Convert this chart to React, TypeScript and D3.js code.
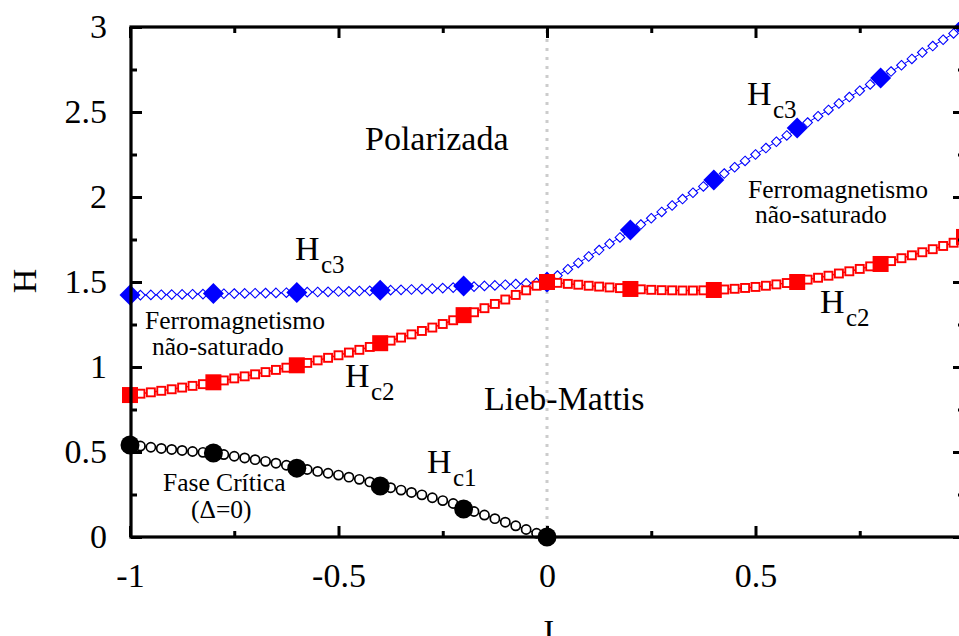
import { useEffect, useRef } from "react";
import * as d3 from "d3";

// fine grid (small open markers)
const jFineLeft = [
  -1, -0.975, -0.95, -0.925, -0.9, -0.875, -0.85, -0.825, -0.8, -0.775, -0.75, -0.725, -0.7, -0.675,
  -0.65, -0.625, -0.6, -0.575, -0.55, -0.525, -0.5, -0.475, -0.45, -0.425, -0.4, -0.375, -0.35, -0.325,
  -0.3, -0.275, -0.25, -0.225, -0.2, -0.175, -0.15, -0.125, -0.1, -0.075, -0.05, -0.025, 0,
];
const jFineRight = [
  0.025, 0.05, 0.075, 0.1, 0.125, 0.15, 0.175, 0.2, 0.225, 0.25, 0.275, 0.3, 0.325, 0.35, 0.375, 0.4,
  0.425, 0.45, 0.475, 0.5, 0.525, 0.55, 0.575, 0.6, 0.625, 0.65, 0.675, 0.7, 0.725, 0.75, 0.775, 0.8,
  0.825, 0.85, 0.875, 0.9, 0.925, 0.95, 0.975, 1,
];

const hc1Fine = [
  0.541, 0.535, 0.528, 0.521, 0.515, 0.509, 0.503, 0.498, 0.493, 0.485, 0.475, 0.465, 0.455, 0.445,
  0.434, 0.422, 0.408, 0.397, 0.386, 0.375, 0.364, 0.352, 0.339, 0.324, 0.303, 0.29, 0.276, 0.262,
  0.248, 0.231, 0.214, 0.197, 0.17, 0.15, 0.129, 0.108, 0.087, 0.066, 0.044, 0.022, 0,
];
const hc2Fine = [
  0.835, 0.843, 0.851, 0.86, 0.869, 0.879, 0.889, 0.899, 0.91, 0.921, 0.933, 0.945, 0.957, 0.97,
  0.983, 0.996, 1.01, 1.024, 1.039, 1.054, 1.069, 1.085, 1.101, 1.118, 1.14, 1.155, 1.173, 1.192,
  1.212, 1.232, 1.253, 1.275, 1.3, 1.322, 1.346, 1.371, 1.397, 1.424, 1.451, 1.478, 1.5,
  1.495, 1.489, 1.484, 1.478, 1.473, 1.468, 1.464, 1.46, 1.457, 1.454, 1.452, 1.451, 1.45, 1.45,
  1.451, 1.453, 1.456, 1.46, 1.465, 1.471, 1.478, 1.486, 1.494, 1.503, 1.514, 1.525, 1.537, 1.55,
  1.563, 1.577, 1.592, 1.607, 1.623, 1.64, 1.657, 1.675, 1.693, 1.712, 1.731, 1.75,
];
const hc3Fine = [
  1.422, 1.423, 1.424, 1.425, 1.426, 1.427, 1.428, 1.429, 1.43, 1.431, 1.432, 1.433, 1.434, 1.435,
  1.436, 1.437, 1.438, 1.44, 1.441, 1.442, 1.444, 1.445, 1.447, 1.448, 1.45, 1.452, 1.454, 1.456,
  1.458, 1.461, 1.464, 1.467, 1.47, 1.473, 1.477, 1.48, 1.484, 1.488, 1.492, 1.496, 1.5,
  1.538, 1.575, 1.612, 1.65, 1.688, 1.725, 1.762, 1.8, 1.838, 1.875, 1.912, 1.95, 1.988, 2.025,
  2.062, 2.1, 2.138, 2.175, 2.212, 2.25, 2.288, 2.325, 2.362, 2.4, 2.438, 2.475, 2.512, 2.55,
  2.588, 2.625, 2.662, 2.7, 2.738, 2.775, 2.812, 2.85, 2.888, 2.925, 2.962, 3.0,
];

// coarse grid (big filled markers)
const jCoarseLeft = [-1, -0.8, -0.6, -0.4, -0.2, 0];
const jCoarseRight = [0.2, 0.4, 0.6, 0.8, 1];
const hc1Big = [0.541, 0.494, 0.405, 0.3, 0.165, 0];
const hc2Big = [0.835, 0.91, 1.01, 1.14, 1.305, 1.5, 1.459, 1.453, 1.5, 1.606, 1.765];
const hc3Big = [1.424, 1.433, 1.438, 1.452, 1.476, 1.5, 1.806, 2.1, 2.406, 2.7, 3.0];

const xMajor = [-1, -0.5, 0, 0.5];
const xMinor = [-0.75, -0.25, 0.25, 0.75];
const yMajor = [0, 0.5, 1, 1.5, 2, 2.5, 3];
const yMinor = [0.25, 0.75, 1.25, 1.75, 2.25, 2.75];

const W = 959;
const H = 636;
const FONT = "'Liberation Serif', 'Times New Roman', serif";

const zip = (xs: number[], ys: number[]) => xs.map((x, i) => [x, ys[i]] as [number, number]);

const PhaseDiagram = () => {
  const svgRef = useRef<SVGSVGElement | null>(null);

  useEffect(() => {
    d3.select(svgRef.current).selectAll("*").remove();
    const svg = d3.select(svgRef.current).attr("width", W).attr("height", H);

    const x = d3.scaleLinear().domain([-1, 1]).range([130, 964]);
    const y = d3.scaleLinear().domain([0, 3]).range([537, 27]);

    const jFull = jFineLeft.concat(jFineRight);
    const jCoarse = jCoarseLeft.concat(jCoarseRight);

    // dotted line at J = 0
    svg
      .append("line")
      .attr("x1", x(0))
      .attr("x2", x(0))
      .attr("y1", y(0))
      .attr("y2", y(3))
      .attr("stroke", "#cccccc")
      .attr("stroke-width", 3)
      .attr("stroke-dasharray", "3,6");

    const line = d3
      .line<[number, number]>()
      .x((d) => x(d[0]))
      .y((d) => y(d[1]));

    // Hc3 - blue diamonds
    const blue = "#0000ff";
    const hc3 = zip(jFull, hc3Fine);
    svg.append("path").attr("d", line(hc3)).attr("fill", "none").attr("stroke", blue).attr("stroke-width", 1);
    const diamond = (r: number) => `M0,${-r}L${r},0L0,${r}L${-r},0Z`;
    svg
      .selectAll(".d-small")
      .data(hc3)
      .enter()
      .append("path")
      .attr("d", diamond(4.8))
      .attr("transform", (d) => `translate(${x(d[0])},${y(d[1])})`)
      .attr("fill", "white")
      .attr("stroke", blue)
      .attr("stroke-width", 1.1);
    svg
      .selectAll(".d-big")
      .data(zip(jCoarse, hc3Big))
      .enter()
      .append("path")
      .attr("d", diamond(10.5))
      .attr("transform", (d) => `translate(${x(d[0])},${y(d[1])})`)
      .attr("fill", blue);

    // Hc2 - red squares
    const red = "#ff0000";
    const hc2 = zip(jFull, hc2Fine);
    svg.append("path").attr("d", line(hc2)).attr("fill", "none").attr("stroke", red).attr("stroke-width", 1.5);
    svg
      .selectAll(".s-small")
      .data(hc2)
      .enter()
      .append("rect")
      .attr("x", (d) => x(d[0]) - 4)
      .attr("y", (d) => y(d[1]) - 4)
      .attr("width", 8)
      .attr("height", 8)
      .attr("fill", "white")
      .attr("stroke", red)
      .attr("stroke-width", 1.9);
    svg
      .selectAll(".s-big")
      .data(zip(jCoarse, hc2Big))
      .enter()
      .append("rect")
      .attr("x", (d) => x(d[0]) - 8)
      .attr("y", (d) => y(d[1]) - 8)
      .attr("width", 16)
      .attr("height", 16)
      .attr("fill", red);

    // Hc1 - black circles
    const hc1 = zip(jFineLeft, hc1Fine);
    svg.append("path").attr("d", line(hc1)).attr("fill", "none").attr("stroke", "black").attr("stroke-width", 1.2);
    svg
      .selectAll(".c-small")
      .data(hc1)
      .enter()
      .append("circle")
      .attr("cx", (d) => x(d[0]))
      .attr("cy", (d) => y(d[1]))
      .attr("r", 4.6)
      .attr("fill", "white")
      .attr("stroke", "black")
      .attr("stroke-width", 1.7);
    svg
      .selectAll(".c-big")
      .data(zip(jCoarseLeft, hc1Big))
      .enter()
      .append("circle")
      .attr("cx", (d) => x(d[0]))
      .attr("cy", (d) => y(d[1]))
      .attr("r", 9.5)
      .attr("fill", "black");

    // axes
    const fmt = (d: any) => String(d);
    const styleAxis = (g: any) => {
      g.select(".domain").remove();
      g.selectAll("line").attr("stroke", "black").attr("stroke-width", 3);
      g.selectAll("text").attr("font-family", FONT).attr("font-size", 34).attr("fill", "black");
    };
    svg
      .append("g")
      .attr("transform", `translate(0,${y(0)})`)
      .call(d3.axisBottom(x).tickValues(xMajor).tickSize(-11).tickPadding(26).tickFormat(fmt))
      .call(styleAxis);
    svg
      .append("g")
      .attr("transform", `translate(0,${y(0)})`)
      .call(d3.axisBottom(x).tickValues(xMinor).tickSize(-6).tickFormat(() => ""))
      .call(styleAxis);
    svg
      .append("g")
      .attr("transform", `translate(0,${y(3)})`)
      .call(d3.axisTop(x).tickValues(xMajor).tickSize(-11).tickFormat(() => ""))
      .call(styleAxis);
    svg
      .append("g")
      .attr("transform", `translate(0,${y(3)})`)
      .call(d3.axisTop(x).tickValues(xMinor).tickSize(-6).tickFormat(() => ""))
      .call(styleAxis);
    svg
      .append("g")
      .attr("transform", `translate(${x(-1) + 1},0)`)
      .call(d3.axisLeft(y).tickValues(yMajor).tickSize(-11).tickPadding(24).tickFormat(fmt))
      .call(styleAxis);
    svg
      .append("g")
      .attr("transform", `translate(${x(-1) + 1},0)`)
      .call(d3.axisLeft(y).tickValues(yMinor).tickSize(-6).tickFormat(() => ""))
      .call(styleAxis);
    svg
      .append("g")
      .attr("transform", `translate(${x(1)},0)`)
      .call(d3.axisRight(y).tickValues(yMajor).tickSize(-11).tickFormat(() => ""))
      .call(styleAxis);
    svg
      .append("g")
      .attr("transform", `translate(${x(1)},0)`)
      .call(d3.axisRight(y).tickValues(yMinor).tickSize(-6).tickFormat(() => ""))
      .call(styleAxis);

    // frame
    svg
      .append("rect")
      .attr("x", x(-1) + 1)
      .attr("y", y(3))
      .attr("width", x(1) - x(-1) - 1)
      .attr("height", y(0) - y(3))
      .attr("fill", "none")
      .attr("stroke", "black")
      .attr("stroke-width", 3.2);

    // axis titles
    svg
      .append("text")
      .attr("transform", `translate(36,281) rotate(-90)`)
      .attr("text-anchor", "middle")
      .attr("font-family", FONT)
      .attr("font-size", 34)
      .text("H");
    svg
      .append("text")
      .attr("x", x(0))
      .attr("y", 643)
      .attr("text-anchor", "middle")
      .attr("font-family", FONT)
      .attr("font-size", 34)
      .text("J");

    // annotations
    const label = (tx: number, ty: number, s: string, size: number) =>
      svg
        .append("text")
        .attr("x", tx)
        .attr("y", ty)
        .attr("font-family", FONT)
        .attr("font-size", size)
        .attr("fill", "black")
        .text(s);
    const hLabel = (tx: number, ty: number, sub: string) => {
      label(tx, ty, "H", 34);
      label(tx + 26, ty + 13, sub, 25);
    };

    label(365, 150, "Polarizada", 34);
    label(484, 410, "Lieb-Mattis", 34);
    hLabel(295, 260, "c3");
    hLabel(747, 105, "c3");
    hLabel(345, 387, "c2");
    hLabel(820, 313, "c2");
    hLabel(427, 473, "c1");
    label(145, 329, "Ferromagnetismo", 25.5);
    label(152, 355, "não-saturado", 25.5);
    label(748, 198, "Ferromagnetismo", 25.5);
    label(755, 223, "não-saturado", 25.5);
    label(163, 491, "Fase Crítica", 25.5);
    label(191, 518, "(Δ=0)", 25.5);
  }, []);

  return <svg ref={svgRef} style={{ position: "absolute", left: 0, top: 0, overflow: "hidden" }}></svg>;
};

export default function App() {
  return <PhaseDiagram />;
}
